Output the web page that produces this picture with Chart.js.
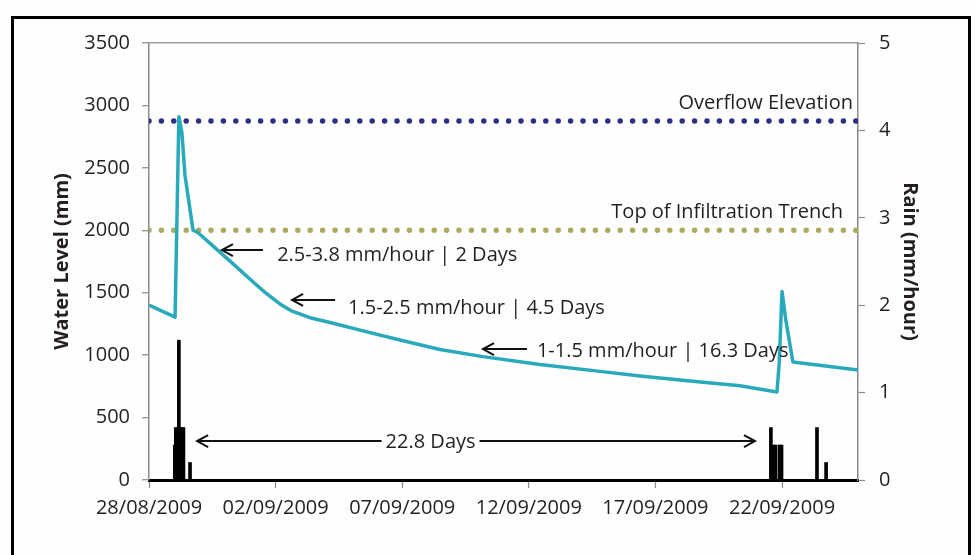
<!DOCTYPE html>
<html>
<head>
<meta charset="utf-8">
<script src="https://cdn.jsdelivr.net/npm/chart.js@4"></script>
<style>
  html, body { margin: 0; padding: 0; background: #ffffff; }
  #wrap { position: relative; width: 975px; height: 555px; overflow: hidden; background: #fefefe; }
  #frame { position: absolute; left: 11px; top: 16px; width: 960px; height: 560px; border: 3px solid #000; pointer-events: none; box-sizing: border-box; }
  canvas { position: absolute; left: 0; top: 0; }
</style>
</head>
<body>
<div id="wrap">
  <canvas id="c" width="975" height="555"></canvas>
  <div id="frame"></div>
</div>
<script>
// ---- data (x in days since 28/08/2009 00:00) ----
const xTickLabels = ['28/08/2009', '02/09/2009', '07/09/2009', '12/09/2009', '17/09/2009', '22/09/2009'];
const xTickDays = [0, 5, 10, 15, 20, 25];

const levelDays = [0, 1.03, 1.18, 1.30, 1.42, 1.74, 1.94, 2.80, 3.40, 3.99, 4.58, 5.17, 5.65, 6.36, 7.27, 8.53, 9.91, 11.49, 13.19, 15.44, 17.81, 19.39, 21.37, 23.34, 24.80, 24.89, 25.00, 25.15, 25.43, 28.00];
const levelValues = [1400, 1305, 2910, 2780, 2443, 2000, 1980, 1825, 1717, 1608, 1503, 1410, 1352, 1300, 1255, 1190, 1121, 1045, 988, 925, 870, 833, 793, 755, 705, 940, 1510, 1280, 945, 880];

const rainDays = [1.02, 1.06, 1.12, 1.18, 1.24, 1.30, 1.36, 1.62, 24.56, 24.66, 24.74, 24.90, 24.98, 26.38, 26.74];
const rainValues = [0.4, 0.6, 0.6, 1.6, 0.6, 0.6, 0.6, 0.2, 0.6, 0.4, 0.4, 0.4, 0.4, 0.6, 0.2];

const overflowLevel = 2875;
const trenchLevel = 2000;

const lineLabels = ['Overflow Elevation', 'Top of Infiltration Trench'];
const lineLabelDays = [27.80, 27.41];
const lineLabelLevels = [3020, 2146];

const rateTexts = ['2.5-3.8 mm/hour | 2 Days', '1.5-2.5 mm/hour | 4.5 Days', '1-1.5 mm/hour | 16.3 Days'];
const rateArrowFrom = [4.50, 7.35, 14.93];
const rateArrowTo = [2.88, 5.65, 13.19];
const rateArrowLevel = [1842, 1442, 1049];
const rateTextDay = [5.06, 7.86, 15.32];
const rateTextLevel = [1802, 1378, 1033];

const spanText = '22.8 Days';
const spanFrom = 1.90, spanTo = 23.93, spanLevel = 312, spanTextDay = 11.12;

// ---- chart ----
const FONT = "'Open Sans', sans-serif";
const TXT = '#231f20';

const annotations = {
  id: 'annotations',
  afterDatasetsDraw(chart) {
    const ctx = chart.ctx, x = chart.scales.x, y = chart.scales.y;
    ctx.save();
    ctx.font = '20px ' + FONT;
    ctx.fillStyle = TXT;
    ctx.textBaseline = 'middle';
    ctx.textAlign = 'right';
    lineLabels.forEach((t, i) => ctx.fillText(t, x.getPixelForValue(lineLabelDays[i]), y.getPixelForValue(lineLabelLevels[i])));
    const head = (px, py, dir) => {
      ctx.beginPath();
      ctx.moveTo(px + dir * 11, py - 6);
      ctx.lineTo(px, py);
      ctx.lineTo(px + dir * 11, py + 6);
      ctx.stroke();
    };
    ctx.strokeStyle = '#111';
    ctx.lineWidth = 2;
    ctx.textAlign = 'left';
    rateTexts.forEach((t, i) => {
      const x1 = x.getPixelForValue(rateArrowFrom[i]);
      const x2 = x.getPixelForValue(rateArrowTo[i]);
      const py = y.getPixelForValue(rateArrowLevel[i]);
      ctx.beginPath(); ctx.moveTo(x1, py); ctx.lineTo(x2 + 1, py); ctx.stroke();
      head(x2, py, 1);
      ctx.fillText(t, x.getPixelForValue(rateTextDay[i]), y.getPixelForValue(rateTextLevel[i]));
    });
    const sx1 = x.getPixelForValue(spanFrom), sx2 = x.getPixelForValue(spanTo), sy = y.getPixelForValue(spanLevel);
    ctx.beginPath(); ctx.moveTo(sx1 + 1, sy); ctx.lineTo(sx2 - 1, sy); ctx.stroke();
    head(sx1, sy, 1); head(sx2, sy, -1);
    const tx = x.getPixelForValue(spanTextDay);
    const w = ctx.measureText(spanText).width;
    ctx.fillStyle = '#ffffff';
    ctx.fillRect(tx - w / 2 - 4, sy - 10, w + 8, 20);
    ctx.fillStyle = TXT;
    ctx.textAlign = 'center';
    ctx.fillText(spanText, tx, sy + 1);
    ctx.restore();
  }
};

const dotted = (level, color) => ({
  type: 'line',
  data: [{ x: 0, y: level }, { x: 28, y: level }],
  borderColor: color,
  borderWidth: 5.5,
  borderDash: [0, 12.4],
  borderCapStyle: 'round',
  pointRadius: 0,
  yAxisID: 'y',
  order: 1
});

new Chart(document.getElementById('c'), {
  data: {
    datasets: [
      {
        type: 'line',
        data: levelDays.map((d, i) => ({ x: d, y: levelValues[i] })),
        borderColor: '#29aabb',
        borderWidth: 3.5,
        borderJoinStyle: 'round',
        tension: 0,
        pointRadius: 0,
        yAxisID: 'y',
        order: 0
      },
      dotted(overflowLevel, '#2d2f85'),
      dotted(trenchLevel, '#a9aa5c'),
      {
        type: 'bar',
        data: rainDays.map((d, i) => ({ x: d, y: rainValues[i] })),
        backgroundColor: '#000',
        barThickness: 3,
        yAxisID: 'y2',
        order: 2
      }
    ]
  },
  options: {
    responsive: false,
    animation: false,
    layout: { padding: { top: 43, left: 0, right: 0, bottom: 0 } },
    plugins: { legend: { display: false }, tooltip: { enabled: false } },
    scales: {
      x: {
        type: 'linear', min: 0, max: 28, offset: false,
        afterBuildTicks: (s) => { s.ticks = xTickDays.map(v => ({ value: v })); },
        afterFit: (s) => { s.height = 75; },
        ticks: {
          autoSkip: false, maxRotation: 0, padding: 8, color: TXT,
          font: { family: FONT, size: 20 },
          callback: (v) => xTickLabels[xTickDays.indexOf(v)] ?? ''
        },
        grid: { offset: false, drawOnChartArea: false, tickLength: 8, tickColor: '#8a8a8a', tickWidth: 1.2 },
        border: { color: '#000', width: 3 }
      },
      y: {
        position: 'left', min: 0, max: 3500,
        afterFit: (s) => { s.width = 149; },
        ticks: { stepSize: 500, padding: 12, color: TXT, font: { family: FONT, size: 20 }, callback: (v) => String(v) },
        grid: {
          color: (c) => (c.tick && c.tick.value === 3500 ? '#a0a0a0' : 'rgba(0,0,0,0)'),
          lineWidth: 1.5, tickLength: 7, tickColor: '#8a8a8a', tickWidth: 1.2
        },
        border: { color: '#8a8a8a', width: 1.5 },
        title: { display: true, text: 'Water Level (mm)', color: TXT, font: { family: FONT, size: 20, weight: 'bold' }, padding: { top: 50, bottom: 0 } }
      },
      y2: {
        position: 'right', min: 0, max: 5,
        afterFit: (s) => { s.width = 117; },
        ticks: { stepSize: 1, padding: 14, color: TXT, font: { family: FONT, size: 20 }, callback: (v) => String(v) },
        grid: { drawOnChartArea: false, tickLength: 7, tickColor: '#8a8a8a', tickWidth: 1.2 },
        border: { color: '#8a8a8a', width: 1.5 },
        title: { display: true, text: 'Rain (mm/hour)', color: TXT, font: { family: FONT, size: 20, weight: 'bold' }, padding: { top: 53, bottom: 0 } }
      }
    }
  },
  plugins: [annotations]
});
</script>
</body>
</html>
